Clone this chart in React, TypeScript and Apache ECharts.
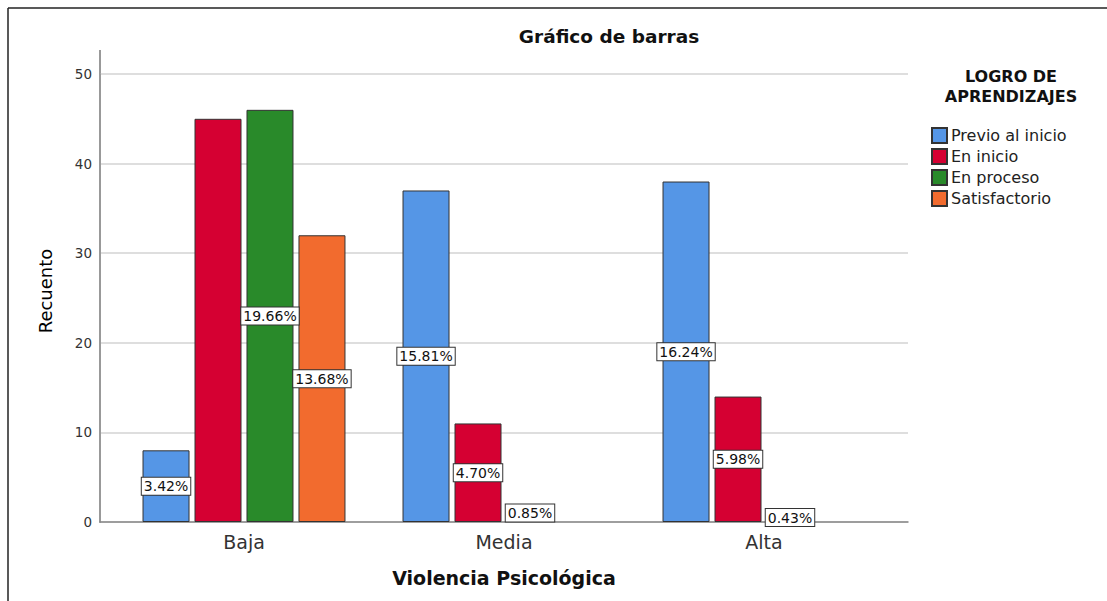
import React, { useEffect, useRef } from "react";
import * as echarts from "echarts";

const categories = ["Baja", "Media", "Alta"];
const seriesNames = ["Previo al inicio", "En inicio", "En proceso", "Satisfactorio"];
const previoAlInicio = [8, 37, 38];
const enInicio = [45, 11, 14];
const enProceso = [46, 2, 1];
const satisfactorio = [32, 0, 0];
const totalCount = 234;
const yTicks = [0, 10, 20, 30, 40, 50];
const colors = ["#5596E6", "#D50032", "#298A2A", "#F26B2E"];
// labels hidden in the reference (overlapping)
const hiddenLabels: Record<string, boolean> = { "En inicio|Baja": true };

const FONT = "DejaVu Sans, Verdana, sans-serif";

export default function App() {
  const ref = useRef<HTMLDivElement>(null);
  useEffect(() => {
    if (!ref.current) return;
    const chart = echarts.init(ref.current, null, { renderer: "svg" });
    const allValues = [previoAlInicio, enInicio, enProceso, satisfactorio];
    const series = allValues.map((vals, si) => ({
      name: seriesNames[si],
      type: "bar",
      xAxisIndex: 1,
      yAxisIndex: 1,
      barWidth: 47,
      barGap: "10.6%",
      itemStyle: { color: colors[si], borderColor: "#333", borderWidth: 1 },
      data: vals.map((v, ci) => ({
        value: v > 0 ? v : null,
        label: {
          show: v > 0 && !hiddenLabels[seriesNames[si] + "|" + categories[ci]],
        },
      })),
      label: {
        position: "inside",
        formatter: (p: any) => ((p.value / totalCount) * 100).toFixed(2) + "%",
        color: "#111",
        fontFamily: FONT,
        fontSize: 14,
        backgroundColor: "#fff",
        borderColor: "#333",
        borderWidth: 1,
        padding: [2, 2, 1, 2],
      },
    }));
    chart.setOption({
      animation: false,
      backgroundColor: "#fff",
      title: [
        {
          text: "Gráfico de barras",
          left: 609,
          top: 27,
          padding: 0,
          textAlign: "center",
          textStyle: { fontFamily: FONT, fontSize: 18.5, fontWeight: "bold", color: "#111" },
        },
        {
          text: "LOGRO DE\nAPRENDIZAJES",
          left: 1011,
          top: 66,
          padding: 0,
          textAlign: "center",
          textStyle: { fontFamily: FONT, fontSize: 16, fontWeight: "bold", color: "#111", lineHeight: 20 },
        },
      ],
      legend: {
        orient: "vertical",
        left: 931,
        top: 127,
        padding: 0,
        itemWidth: 15,
        itemHeight: 15,
        itemGap: 4,
        icon: "rect",
        data: seriesNames,
        textStyle: { fontFamily: FONT, fontSize: 16, lineHeight: 16, color: "#222", padding: [0, 0, 0, -1] },
      },
      grid: [
        { left: 100, right: 199, top: 74, bottom: 79 },
        { left: 114, right: 213, top: 74, bottom: 79 },
      ],
      xAxis: [
        {
          gridIndex: 0,
          type: "value",
          min: 0,
          max: 1,
          show: true,
          axisLine: { show: true, lineStyle: { color: "#888", width: 1.5 } },
          axisTick: { show: false },
          axisLabel: { show: false },
          splitLine: { show: false },
        },
        {
          gridIndex: 1,
          type: "category",
          data: categories,
          axisLine: { show: false },
          axisTick: { show: false },
          axisLabel: { fontFamily: FONT, fontSize: 19, color: "#333", margin: 10 },
          name: "Violencia Psicológica",
          nameLocation: "middle",
          nameGap: 46,
          nameTextStyle: { fontFamily: FONT, fontSize: 19, fontWeight: "bold", color: "#111" },
        },
      ],
      yAxis: [
        {
          gridIndex: 0,
          type: "value",
          min: yTicks[0],
          max: yTicks[yTicks.length - 1],
          interval: 10,
          axisLine: { show: true, lineStyle: { color: "#999", width: 2 } },
          axisTick: { show: false },
          axisLabel: { fontFamily: FONT, fontSize: 13.5, color: "#333", margin: 8 },
          splitLine: { show: true, lineStyle: { color: "#d3d3d3", width: 1.5 } },
          name: "Recuento",
          nameLocation: "middle",
          nameGap: 46,
          nameTextStyle: { fontFamily: FONT, fontSize: 18, color: "#000", padding: [0, 0, 0, 14] },
        },
        {
          gridIndex: 1,
          type: "value",
          min: yTicks[0],
          max: yTicks[yTicks.length - 1],
          interval: 10,
          show: false,
        },
      ],
      graphic: [
        { type: "line", shape: { x1: 100, y1: 50, x2: 100, y2: 74 }, style: { stroke: "#999", lineWidth: 2 } },
        { type: "line", shape: { x1: 8, y1: 8, x2: 1107, y2: 8 }, style: { stroke: "#222", lineWidth: 1.5 } },
        { type: "line", shape: { x1: 8, y1: 8, x2: 8, y2: 601 }, style: { stroke: "#222", lineWidth: 1.5 } },
      ],
      series,
    });
    return () => chart.dispose();
  }, []);
  return (
    <div
      ref={ref}
      style={{ position: "absolute", left: 0, top: 0, width: 1107, height: 601 }}
    />
  );
}
